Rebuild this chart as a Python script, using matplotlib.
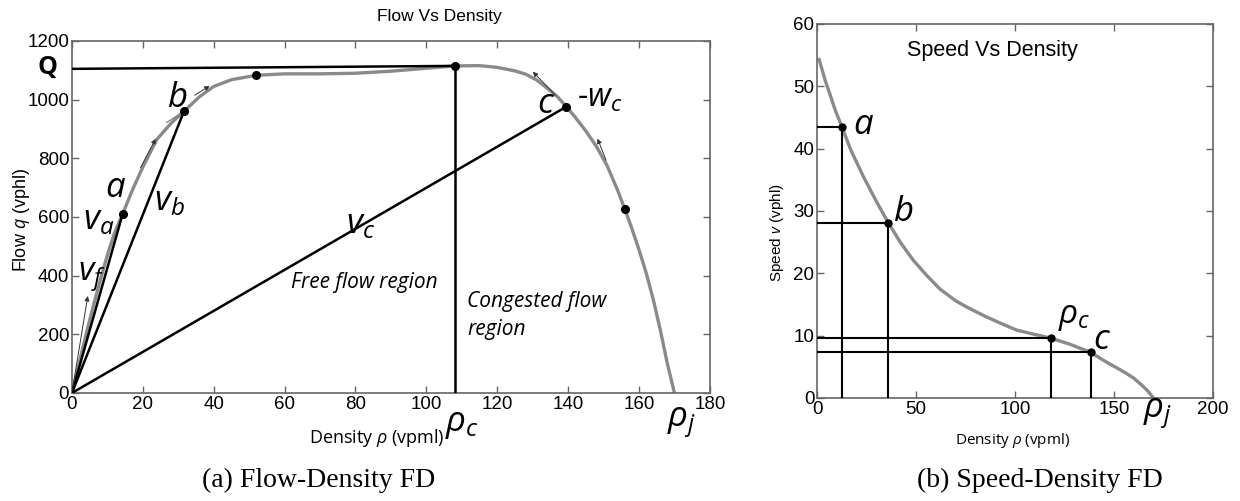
import matplotlib
matplotlib.use("Agg")
import matplotlib.pyplot as plt

plt.rcParams['mathtext.fontset'] = 'custom'
plt.rcParams['mathtext.it'] = 'Open Sans:italic'
plt.rcParams['mathtext.rm'] = 'Open Sans'

# flow-density curve
rho_flow = [0, 2, 4, 6, 8, 10, 12, 14.3, 17, 20, 24, 28, 31.6, 36, 40, 45, 52, 60, 70, 80,
            90, 100, 108, 115, 120, 125, 128, 131, 134, 137, 139.5, 142, 145, 148, 151, 154,
            156, 158, 160, 162, 164, 166, 168, 170]
q_flow = [0, 100, 200, 295, 385, 470, 545, 610, 690, 770, 865, 920, 960, 1010, 1045, 1068,
          1083, 1088, 1088, 1090, 1097, 1107, 1115, 1116, 1110, 1098, 1087, 1068, 1040, 1010,
          976, 940, 893, 840, 775, 690, 627, 560, 488, 410, 320, 215, 100, 0]
# marked points on the flow curve
dots_rho = [14.3, 31.6, 52, 108, 139.5, 156]
dots_q = [610, 960, 1083, 1115, 976, 627]
q_max_left = 1105

# speed-density curve
rho_speed = [1, 4, 6.6, 9, 12.5, 17, 23.4, 30, 36, 42, 48.6, 55, 62, 70, 75.6, 85, 92, 100.8,
             110, 118.2, 128, 138.4, 145, 150, 155, 160, 164, 167, 170]
v_speed = [54.3, 51.0, 48.6, 46.3, 43.5, 39.8, 35.5, 31.5, 28.1, 25.0, 22.1, 19.8, 17.5, 15.6,
           14.6, 13.1, 12.1, 10.9, 10.2, 9.6, 8.6, 7.3, 6.0, 5.1, 4.2, 3.2, 2.1, 1.2, 0]
ref_rho = [12.5, 36, 118.2, 138.4]
ref_v = [43.5, 28.1, 9.6, 7.3]

gray = '#8a8a8a'
spine = '#666666'
tickfont = 'Liberation Sans'

fig = plt.figure(figsize=(12.4, 5.01), dpi=100)
ax1 = fig.add_axes([0.058, 0.2156, 0.5145, 0.7026])
ax2 = fig.add_axes([0.659, 0.2056, 0.319, 0.7465])

for ax in (ax1, ax2):
    for s in ax.spines.values():
        s.set_color(spine)
        s.set_linewidth(1.2)
    ax.tick_params(direction='in', length=5, width=1, color=spine, top=True, right=True,
                   labelsize=13.5, pad=2)

# ---- (a) flow vs density
ax1.set_xlim(0, 180)
ax1.set_ylim(0, 1200)
ax1.set_xticks(range(0, 181, 20))
ax1.set_yticks(range(0, 1201, 200))
for t in ax1.get_xticklabels() + ax1.get_yticklabels():
    t.set_fontfamily(tickfont)

ax1.plot(rho_flow, q_flow, color=gray, lw=2.4, zorder=2)
k = dots_rho.index(108)
ax1.plot([0, dots_rho[k]], [q_max_left, dots_q[k]], color='k', lw=1.8, zorder=3)
ax1.plot([dots_rho[k], dots_rho[k]], [0, dots_q[k]], color='k', lw=1.8, zorder=3)
for i in (0, 1, 4):
    ax1.plot([0, dots_rho[i]], [0, dots_q[i]], color='k', lw=1.8, zorder=3)
ax1.plot(dots_rho, dots_q, 'o', color='k', ms=5.5, zorder=4)

# small tangent arrows
arr = dict(arrowstyle='-|>', color='#333333', lw=0.7, mutation_scale=7)
ax1.annotate('', xy=(4.6, 340), xytext=(0, 0), arrowprops=arr)
ax1.annotate('', xy=(24, 875), xytext=(19, 760), arrowprops=arr)
ax1.annotate('', xy=(39.5, 1052), xytext=(34, 1010), arrowprops=arr)
ax1.plot([26.7, 31.6], [922, 960], color='#777777', lw=0.8)
ax1.annotate('', xy=(129.5, 1102), xytext=(137, 1008), arrowprops=arr)
ax1.annotate('', xy=(148, 876), xytext=(151, 785), arrowprops=arr)

lab = dict(family='Open Sans', style='italic', fontsize=25, ha='center', va='center')
ax1.text(-6.8, 1108, 'Q', family='Open Sans', weight='bold', fontsize=18, ha='center',
         va='center', clip_on=False)
ax1.text(12.3, 700, 'a', **lab)
ax1.text(29.6, 1005, 'b', **lab)
ax1.text(133.5, 985, 'c', **lab)
ax1.text(142.5, 1005, r'-$w_c$', family='Open Sans', fontsize=23, ha='left', va='center')
ax1.text(7.6, 590, r'$v_a$', fontsize=25, ha='center', va='center')
ax1.text(27.5, 655, r'$v_b$', fontsize=25, ha='center', va='center')
ax1.text(81.5, 575, r'$v_c$', fontsize=25, ha='center', va='center')
ax1.text(5.6, 395, r'$v_f$', fontsize=24, ha='center', va='center')
ax1.text(82.5, 378, 'Free flow region', family='Open Sans', style='italic', fontsize=15,
         ha='center', va='center')
ax1.text(111.5, 265, 'Congested flow\nregion', family='Open Sans', style='italic',
         fontsize=15, ha='left', va='center', linespacing=1.45)
ax1.text(110, -105, r'$\rho_c$', fontsize=25, ha='center', va='center', clip_on=False)
ax1.text(172, -105, r'$\rho_j$', fontsize=25, ha='center', va='center', clip_on=False)

fig.text(377 / 1240, 1 - 438 / 501, r'Density $\rho$ (vpml)', family='Open Sans',
         fontsize=13, ha='center', va='center')
fig.text(21 / 1240, 1 - 220 / 501, r'Flow $\mathit{q}$ (vphl)', family='Liberation Sans',
         fontsize=13, rotation=90, ha='center', va='center')
fig.text(439 / 1240, 1 - 17 / 501, 'Flow Vs Density', family='Liberation Sans',
         fontsize=12.5, ha='center', va='center')

# ---- (b) speed vs density
ax2.set_xlim(0, 200)
ax2.set_ylim(0, 60)
ax2.set_xticks(range(0, 201, 50))
ax2.set_yticks(range(0, 61, 10))
for t in ax2.get_xticklabels() + ax2.get_yticklabels():
    t.set_fontfamily(tickfont)

ax2.plot(rho_speed, v_speed, color=gray, lw=2.4, zorder=2)
for r, v in zip(ref_rho, ref_v):
    ax2.plot([0, r], [v, v], color='k', lw=1.5, zorder=3)
    ax2.plot([r, r], [0, v], color='k', lw=1.5, zorder=3)
ax2.plot(ref_rho, ref_v, 'o', color='k', ms=5, zorder=4)

ax2.text(88.7, 55.8, 'Speed Vs Density', family=tickfont, fontsize=15.5, ha='center',
         va='center')
ax2.text(23.2, 43.8, 'a', **lab)
ax2.text(43.5, 29.8, 'b', **lab)
ax2.text(143.8, 9.3, 'c', **lab)
ax2.text(130, 13, r'$\rho_c$', fontsize=24, ha='center', va='center')
ax2.text(172, -2.7, r'$\rho_j$', fontsize=25, ha='center', va='center', clip_on=False)

fig.text(1013 / 1240, 1 - 440 / 501, r'Density $\rho$ (vpml)', family='Open Sans',
         fontsize=11, ha='center', va='center')
fig.text(777 / 1240, 1 - 233 / 501, r'Speed $\mathit{v}$ (vphl)', family='Liberation Sans',
         fontsize=11, rotation=90, ha='center', va='center')

# captions
fig.text(319 / 1240, 1 - 480 / 501, '(a) Flow-Density FD', family='Liberation Serif',
         fontsize=20, ha='center', va='center')
fig.text(1040 / 1240, 1 - 480 / 501, '(b) Speed-Density FD', family='Liberation Serif',
         fontsize=20, ha='center', va='center')

fig.savefig('out.png', dpi=100)
